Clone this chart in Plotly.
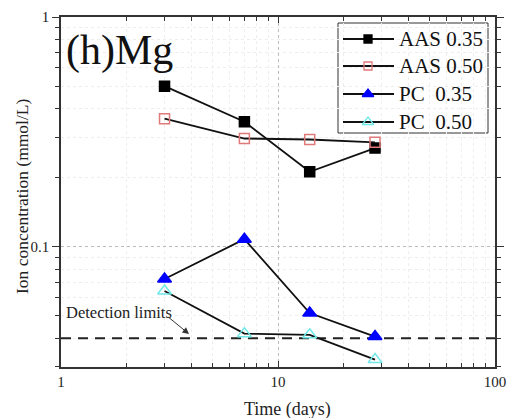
import plotly.graph_objects as go

# Sampling times (days)
days = [3, 7, 14, 28]

# Mg ion concentration (mmol/L)
aas_035 = [0.50, 0.35, 0.212, 0.269]
aas_050 = [0.361, 0.296, 0.293, 0.285]
pc_035 = [0.0724, 0.108, 0.0515, 0.0407]
pc_050 = [0.0642, 0.0419, 0.0414, 0.0323]

detection_limit = 0.040

series_names = ["AAS 0.35", "AAS 0.50", "PC  0.35", "PC  0.50"]
series_values = [aas_035, aas_050, pc_035, pc_050]
series_symbols = ["square", "square-open", "triangle-up", "triangle-up-open"]
series_colors = ["#000000", "#e07a78", "#0000ff", "#6fe8e8"]
series_sizes = [10, 10, 12, 12]

x_tick_vals = [1, 10, 100]
x_tick_text = ["1", "10", "100"]
y_tick_vals = [0.1, 1]
y_tick_text = ["0.1", "1"]

# minor tick positions: 2..9 within each decade
x_minor_vals = [m * 10 ** k for k in (0, 1) for m in range(2, 10)]
y_minor_vals = [m * 10 ** k for k in (-2, -1) for m in range(2, 10)]

SERIF = "Times New Roman, Liberation Serif, DejaVu Serif, serif"

W, H = 507, 418
L, R, T, B = 61, 12, 17, 51
PW, PH = W - L - R, H - T - B


def px(xpix):
    """Horizontal pixel position -> fraction of the plot area."""
    return (xpix - L) / PW


def py(ypix):
    """Vertical pixel position -> fraction of the plot area."""
    return (H - B - ypix) / PH


fig = go.Figure()

# Detection limit reference line across the full time axis
fig.add_trace(go.Scatter(
    x=[x_tick_vals[0], x_tick_vals[-1]], y=[detection_limit, detection_limit],
    mode="lines", line=dict(color="#222222", width=2.2, dash="10px,7px"),
    showlegend=False, hoverinfo="skip",
))

for name, vals, sym, col, sz in zip(series_names, series_values, series_symbols,
                                    series_colors, series_sizes):
    fig.add_trace(go.Scatter(
        x=days, y=vals, name=name, mode="lines+markers",
        line=dict(color="#111111", width=1.8),
        marker=dict(symbol=sym, size=sz, color=col,
                    line=dict(color=col, width=1.5)),
        showlegend=False,
    ))

# Legend box (white, above the grid, below the traces) on an overlay axis
leg_rows = [39, 66, 94, 122]
fig.add_shape(type="rect", xref="paper", yref="paper",
              x0=px(338), x1=px(488), y0=py(23), y1=py(133),
              line=dict(color="#333333", width=1), fillcolor="white", layer="between")
for name, sym, col, sz, row in zip(series_names, series_symbols, series_colors,
                                   series_sizes, leg_rows):
    fig.add_trace(go.Scatter(
        x=[px(343), px(394)], y=[py(row), py(row)], xaxis="x2", yaxis="y2",
        mode="lines", line=dict(color="#111111", width=1.8),
        showlegend=False, hoverinfo="skip",
    ))
    fig.add_trace(go.Scatter(
        x=[px(368)], y=[py(row)], xaxis="x2", yaxis="y2",
        mode="markers",
        marker=dict(symbol=sym, size=sz - 2, color=col, line=dict(color=col, width=1.3)),
        showlegend=False, hoverinfo="skip",
    ))
    fig.add_annotation(
        text=name, xref="paper", yref="paper", x=px(397), y=py(row),
        xanchor="left", yanchor="middle", showarrow=False,
        font=dict(family=SERIF, size=21, color="#111111"),
    )

axis_common = dict(
    type="log", automargin=False,
    showline=True, linecolor="#333333", linewidth=1.5, mirror="allticks",
    tickfont=dict(family=SERIF, size=15, color="#222222"),
    showgrid=True, gridcolor="#bbbbbb", griddash="dot", gridwidth=1,
    zeroline=False,
)

fig.update_layout(
    xaxis=dict(
        **axis_common,
        range=[0, 2],
        tickvals=x_tick_vals, ticktext=x_tick_text,
        ticks="inside", ticklen=6, tickwidth=1.2, tickcolor="#333333",
        minor=dict(tickvals=x_minor_vals, ticks="inside", ticklen=4, tickwidth=1,
                   tickcolor="#333333", showgrid=True, gridcolor="#eeeeee", gridwidth=1),
    ),
    yaxis=dict(
        **axis_common,
        range=[-1.523, 0],
        tickvals=y_tick_vals, ticktext=y_tick_text,
        ticks="outside", ticklen=7, tickwidth=1.2, tickcolor="#333333",
        minor=dict(tickvals=y_minor_vals, ticks="outside", ticklen=4, tickwidth=1,
                   tickcolor="#333333", showgrid=True, gridcolor="#eeeeee", gridwidth=1),
    ),
    xaxis2=dict(overlaying="x", range=[0, 1], visible=False, anchor="y2"),
    yaxis2=dict(overlaying="y", range=[0, 1], visible=False, anchor="x2"),
)

# Axis titles
fig.add_annotation(
    text="Time (days)", xref="paper", yref="paper", x=px(287), y=py(409),
    xanchor="center", yanchor="middle", showarrow=False,
    font=dict(family=SERIF, size=18, color="#222222"),
)
fig.add_annotation(
    text="Ion concentration (mmol/L)", xref="paper", yref="paper",
    x=px(22), y=py(196), textangle=-90,
    xanchor="center", yanchor="middle", showarrow=False,
    font=dict(family=SERIF, size=17.5, color="#222222"),
)

# Panel label
fig.add_annotation(
    text="(h)Mg", xref="paper", yref="paper", x=px(64), y=py(25),
    xanchor="left", yanchor="top", showarrow=False,
    font=dict(family=SERIF, size=42, color="#111111"),
)

# Detection limit label with pointer
fig.add_annotation(
    text="Detection limits", xref="paper", yref="paper", x=px(64), y=py(312),
    xanchor="left", yanchor="middle", showarrow=False,
    font=dict(family=SERIF, size=16.5, color="#222222"),
)
fig.add_annotation(
    text="", xref="paper", yref="paper", x=px(189), y=py(334),
    ax=-22, ay=-18, showarrow=True, arrowhead=2, arrowsize=1.3,
    arrowwidth=1, arrowcolor="#333333",
)

fig.update_layout(
    width=W, height=H,
    margin=dict(l=L, r=R, t=T, b=B),
    paper_bgcolor="white", plot_bgcolor="white",
    font=dict(family=SERIF, color="#111111"),
    showlegend=False,
)

fig.write_html("out.html")
